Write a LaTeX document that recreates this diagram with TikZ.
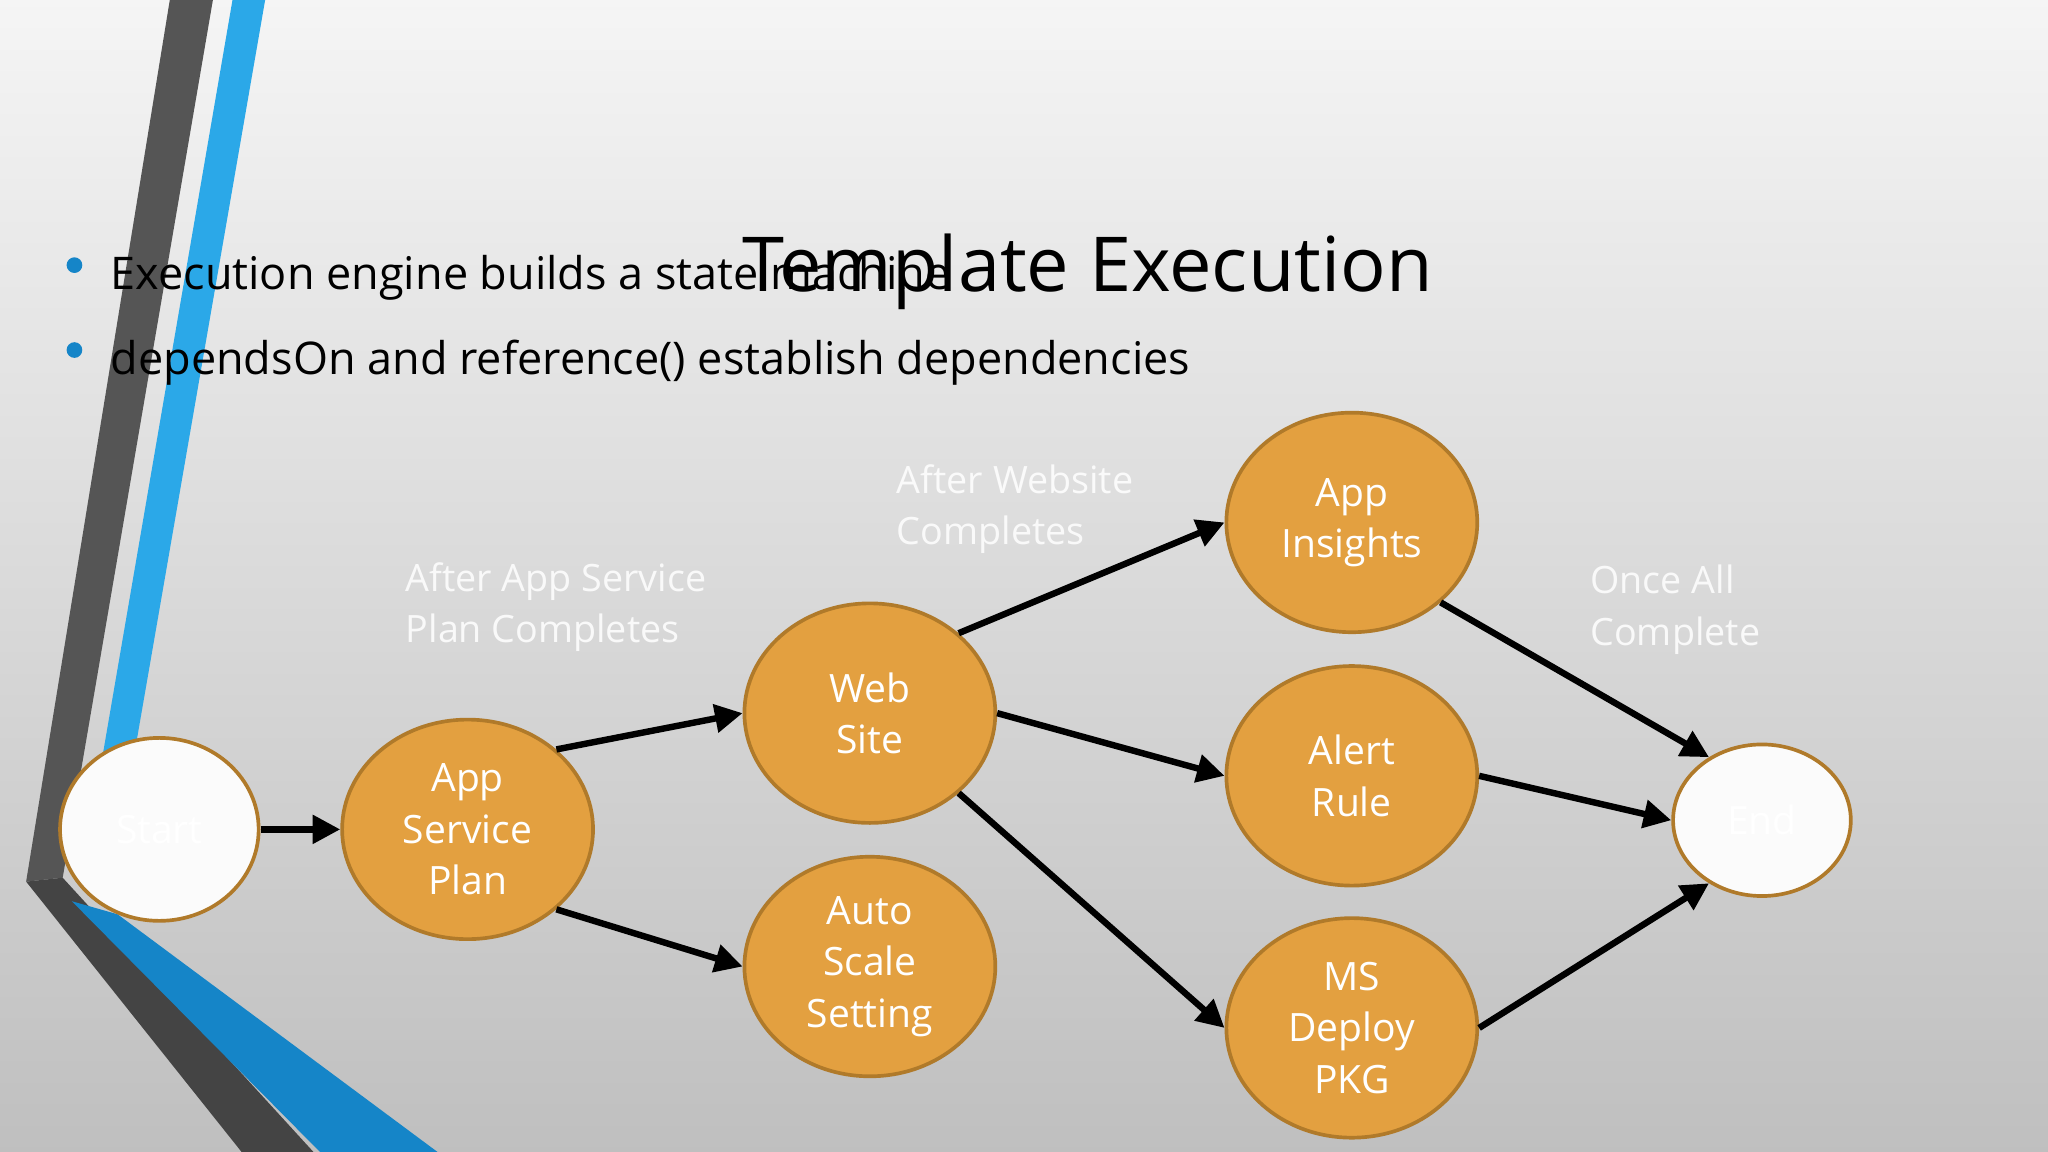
\documentclass[tikz,border=0pt]{standalone}
\usepackage{fontspec}
\setmainfont{Open Sans}
\usetikzlibrary{shapes.geometric,arrows.meta}
\definecolor{org}{HTML}{E3A040}
\definecolor{orgb}{HTML}{B07A2A}
\definecolor{stblue}{HTML}{2BA8E8}
\definecolor{stblue2}{HTML}{1585C8}
\definecolor{stgray}{HTML}{555555}
\tikzset{
 st/.style={ellipse,draw=orgb,line width=0.8pt,fill=org,text=white,inner sep=0pt,minimum width=1.92cm,minimum height=1.68cm,align=center,font=\fontsize{8.5}{11.2}\selectfont},
 term/.style={st,fill=white!97!gray,text=white},
 lbl/.style={text=white,opacity=0.85,align=left,anchor=north west,inner sep=0pt,font=\fontsize{8.2}{11.2}\selectfont},
 arr/.style={line width=1.4pt,-{Triangle[length=6pt,width=6pt]}},
}
\begin{document}
\begin{tikzpicture}[x=0.01cm,y=-0.01cm]
\useasboundingbox (0,0) rectangle (1568,882);
\shade[top color=white!92!gray,bottom color=gray!50] (0,0) rectangle (1568,882);
% decorative stripes
\fill[stblue] (178,0) -- (203,0) -- (92,640) -- (68,640) -- cycle;
\fill[stgray] (130,0) -- (163,0) -- (48,672) -- (20,675) -- cycle;
\fill[stgray!80!black] (20,675) -- (48,672) -- (240,882) -- (185,882) -- cycle;
\fill[stblue2] (55,690) -- (90,700) -- (335,882) -- (245,882) -- cycle;
% title and bullets
\node[anchor=west,inner sep=0pt,font=\fontsize{16.5}{20}\selectfont] (title) at (568,208) {Template Execution};
\fill[stblue2] (57,203) circle (6);
\fill[stblue2] (57,268) circle (6);
\node[anchor=west,inner sep=0pt,font=\fontsize{9.8}{12}\selectfont] (b1) at (84,213) {Execution engine builds a state machine};
\node[anchor=west,inner sep=0pt,font=\fontsize{9.8}{12}\selectfont] (b2) at (84,278) {dependsOn and reference() establish dependencies};
% nodes
\node[term,minimum width=1.52cm,minimum height=1.4cm] (start) at (122,635) {Start};
\node[st] (asp) at (358,635) {App\\Service\\Plan};
\node[st] (web) at (666,546) {Web\\Site};
\node[st] (auto) at (666,740) {Auto\\Scale\\Setting};
\node[st] (ins) at (1035,400) {App\\Insights};
\node[st] (alert) at (1035,594) {Alert\\Rule};
\node[st] (ms) at (1035,787) {MS\\Deploy\\PKG};
\node[term,minimum width=1.36cm,minimum height=1.16cm] (end) at (1349,628) {End};
% labels
\node[lbl] (l1) at (310,430) {After App Service\\Plan Completes};
\node[lbl] (l2) at (686,355) {After Website\\Completes};
\node[lbl] (l3) at (1217,432) {Once All\\Complete};
% arrows
\draw[arr] (start) -- (asp);
\draw[arr] (asp.42) -- (web.west);
\draw[arr] (asp.-42) -- (auto.west);
\draw[arr] (web.42) -- (ins.west);
\draw[arr] (web.east) -- (alert.west);
\draw[arr] (web.-42) -- (ms.west);
\draw[arr] (ins.-42) -- (end.130);
\draw[arr] (alert.east) -- (end.west);
\draw[arr] (ms.east) -- (end.-130);
\end{tikzpicture}
\end{document}
